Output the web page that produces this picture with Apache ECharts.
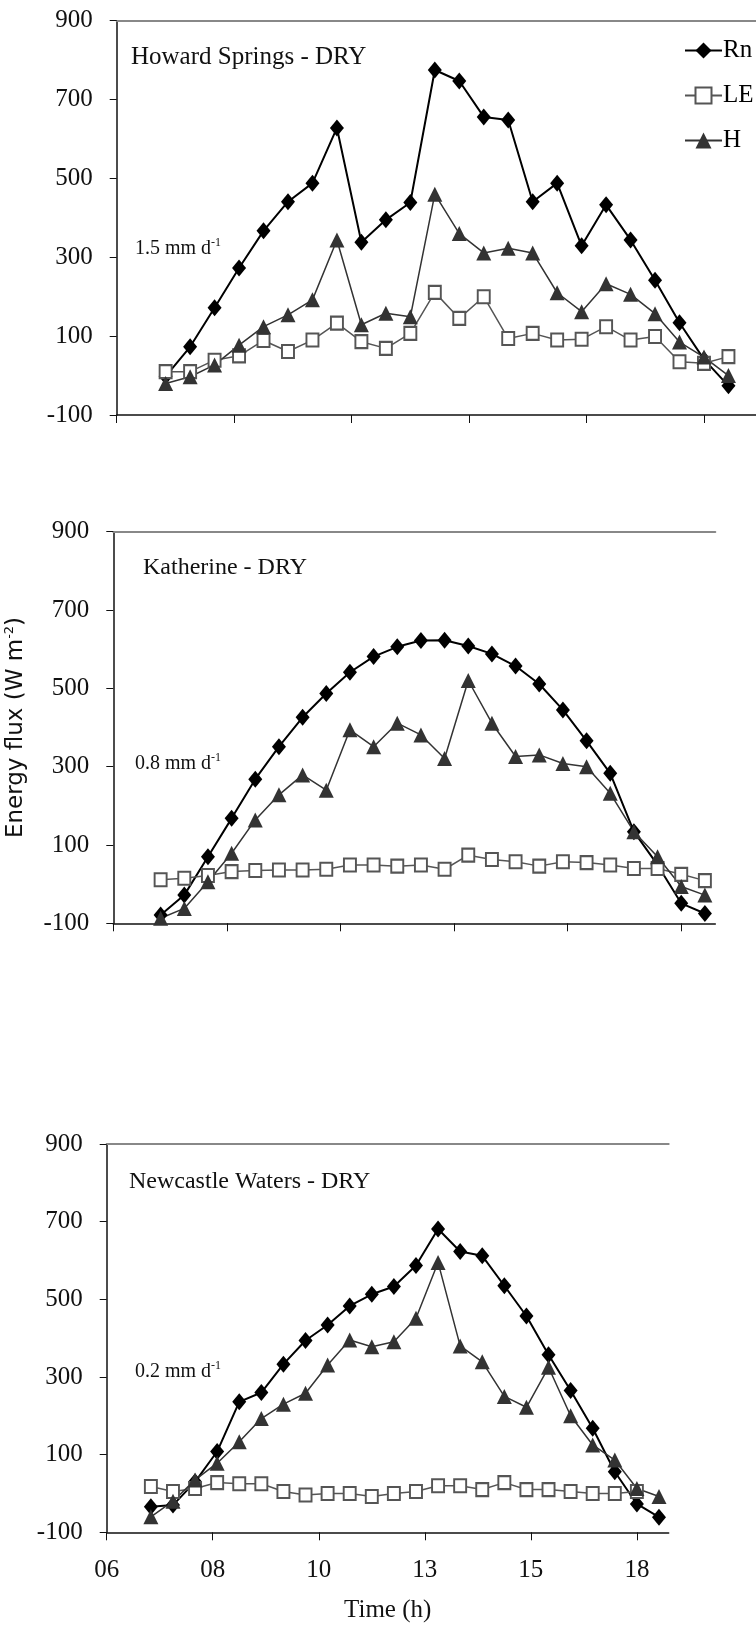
<!DOCTYPE html>
<html>
<head>
<meta charset="utf-8">
<script src="https://cdn.jsdelivr.net/npm/echarts@6/dist/echarts.min.js"></script>
<style>
  html, body { margin: 0; padding: 0; background: #fff; }
  #main { width: 756px; height: 1631px; }
</style>
</head>
<body>
<div id="main"></div>
<script>
// time of day (h), half-hourly
var times = [7.0, 7.5, 8.0, 8.5, 9.0, 9.5, 10.0, 10.5, 11.0, 11.5, 12.0, 12.5,
             13.0, 13.5, 14.0, 14.5, 15.0, 15.5, 16.0, 16.5, 17.0, 17.5, 18.0, 18.5];
var xTicks = [6.0, 8.4, 10.8, 13.2, 15.6, 18.0];
var yTicks = [-100, 100, 300, 500, 700, 900];

// Howard Springs - DRY
var howardRn = [-2, 73, 172, 273, 367, 441, 488, 628, 338, 395, 439, 775, 747, 656, 648, 441, 488, 329, 433, 344, 242, 134, 41, -26];
var howardLE = [10, 10, 39, 50, 89, 61, 90, 133, 86, 69, 107, 211, 145, 200, 94, 107, 90, 92, 124, 90, 99, 35, 31, 48];
var howardH = [-20, -3, 27, 77, 124, 154, 192, 344, 129, 158, 149, 460, 360, 311, 323, 311, 210, 162, 233, 206, 157, 85, 47, 0];

// Katherine - DRY
var katherineRn = [-79, -28, 70, 168, 268, 351, 426, 487, 541, 581, 606, 622, 623, 608, 588, 557, 511, 445, 366, 283, 134, 49, -49, -75];
var katherineLE = [11, 15, 22, 32, 35, 36, 36, 38, 49, 49, 46, 49, 38, 74, 63, 57, 46, 57, 55, 49, 40, 40, 25, 9];
var katherineH = [-87, -62, 6, 79, 164, 228, 279, 240, 394, 351, 411, 381, 321, 520, 411, 326, 330, 308, 300, 232, 134, 70, -6, -28];

// Newcastle Waters - DRY
var newcastleRn = [-34, -30, 30, 108, 236, 260, 333, 394, 434, 483, 513, 533, 587, 681, 623, 612, 535, 457, 357, 265, 168, 56, -27, -61];
var newcastleLE = [18, 5, 13, 28, 25, 25, 5, -4, 0, 0, -8, 0, 5, 20, 20, 10, 28, 10, 10, 5, 0, 0, 5, null];
var newcastleH = [-60, -20, 35, 78, 133, 193, 230, 258, 331, 395, 378, 391, 451, 595, 380, 339, 250, 222, 325, 200, 125, 86, 13, -8];

var panels = [
    { title: 'Howard Springs - DRY', et: '1.5 mm d', rn: howardRn, le: howardLE, h: howardH },
    { title: 'Katherine - DRY', et: '0.8 mm d', rn: katherineRn, le: katherineLE, h: katherineH },
    { title: 'Newcastle Waters - DRY', et: '0.2 mm d', rn: newcastleRn, le: newcastleLE, h: newcastleH }
];

var SERIF = 'Liberation Serif';
var T0 = 6; // x axis starts at 06 h

// plot boxes (px)
var grids = [
    { left: 116.7, top: 20.7, width: 646, height: 394.3, max: 13.2,
      titleLeft: 131, titleTop: 45, titleSize: 25, etTop: 237 },
    { left: 113.3, top: 531.7, width: 602, height: 391.6, max: 12.72,
      titleLeft: 143, titleTop: 556, titleSize: 24, etTop: 752 },
    { left: 106.7, top: 1144, width: 562, height: 388.3, max: 12.72,
      titleLeft: 129, titleTop: 1170, titleSize: 24, etTop: 1360 }
];

function pairs(vals) {
    return times.map(function (t, i) {
        return vals[i] == null ? null : [t - T0, vals[i]];
    });
}

function pad2(h) {
    var n = Math.floor(h + 1e-6);
    return (n < 10 ? '0' : '') + n;
}

var option = {
    animation: false,
    backgroundColor: '#fff',
    textStyle: { fontFamily: SERIF },
    grid: [],
    xAxis: [],
    yAxis: [],
    title: [],
    series: [],
    legend: {
        data: ['Rn', 'LE', 'H'],
        orient: 'vertical',
        left: 684,
        top: 38,
        padding: 0,
        itemWidth: 37,
        itemHeight: 20,
        itemGap: 20,
        textStyle: { fontFamily: SERIF, fontSize: 25, color: '#000', padding: [0, 0, 0, -4] }
    }
};

var xTickOffsets = xTicks.map(function (v) { return v - T0; });

grids.forEach(function (g, i) {
    var p = panels[i];
    var last = i === 2;
    option.grid.push({ left: g.left, top: g.top, width: g.width, height: g.height, outerBoundsMode: 'none' });

    // bottom time axis
    option.xAxis.push({
        type: 'value',
        gridIndex: i,
        min: 0,
        max: g.max,
        interval: 2.4,
        axisLine: { onZero: false, lineStyle: { color: '#111', width: 1.5 } },
        axisTick: { show: true, length: 8, customValues: xTickOffsets, lineStyle: { color: '#111', width: 1 } },
        axisLabel: {
            show: last,
            customValues: xTickOffsets,
            margin: 26,
            fontFamily: SERIF,
            fontSize: 25,
            color: '#111',
            formatter: function (v) { return pad2(v + T0); }
        },
        splitLine: { show: false },
        name: last ? 'Time (h)' : '',
        nameLocation: 'middle',
        nameGap: 66,
        nameTextStyle: { fontFamily: SERIF, fontSize: 25, color: '#111' }
    });
    // top border line
    option.xAxis.push({
        type: 'value',
        gridIndex: i,
        position: 'top',
        min: 0,
        max: g.max,
        axisLine: { onZero: false, lineStyle: { color: '#888', width: 2 } },
        axisTick: { show: false },
        axisLabel: { show: false },
        splitLine: { show: false }
    });

    option.yAxis.push({
        type: 'value',
        gridIndex: i,
        min: -100,
        max: 900,
        axisLine: { show: true, onZero: false, lineStyle: { color: '#111', width: 1.5 } },
        axisTick: { show: true, inside: false, length: 7, customValues: yTicks, lineStyle: { color: '#111', width: 1 } },
        axisLabel: { customValues: yTicks, margin: 24, fontFamily: SERIF, fontSize: 25, color: '#111' },
        splitLine: { show: false },
        name: i === 1 ? '{a|Energy flux (W m}{s|-2}{a|)}' : '',
        nameLocation: 'middle',
        nameRotate: 90,
        nameGap: 84,
        nameTextStyle: {
            rich: {
                a: { fontFamily: 'DejaVu Sans', fontSize: 23, color: '#111', lineHeight: 26 },
                s: { fontFamily: 'DejaVu Sans', fontSize: 13, color: '#111', verticalAlign: 'top', lineHeight: 26 }
            }
        }
    });

    option.title.push({
        text: p.title,
        left: g.titleLeft,
        top: g.titleTop,
        padding: 0,
        textStyle: { fontFamily: SERIF, fontWeight: 'normal', fontSize: g.titleSize, color: '#111' }
    });
    option.title.push({
        text: '{n|' + p.et + '}{s|-1}',
        left: 135,
        top: g.etTop,
        padding: 0,
        textStyle: {
            fontWeight: 'normal',
            rich: {
                n: { fontFamily: SERIF, fontWeight: 'normal', fontSize: 20, color: '#111', lineHeight: 24 },
                s: { fontFamily: SERIF, fontWeight: 'normal', fontSize: 12, color: '#111', verticalAlign: 'top', lineHeight: 24 }
            }
        }
    });

    var xi = i * 2;
    option.series.push({
        name: 'Rn',
        type: 'line',
        xAxisIndex: xi,
        yAxisIndex: i,
        data: pairs(p.rn),
        symbol: 'diamond',
        symbolSize: [14, 17],
        showAllSymbol: true,
        itemStyle: { color: '#000' },
        lineStyle: { color: '#000', width: 2 }
    });
    option.series.push({
        name: 'LE',
        type: 'line',
        xAxisIndex: xi,
        yAxisIndex: i,
        data: pairs(p.le),
        symbol: 'rect',
        symbolSize: [12, 13],
        showAllSymbol: true,
        itemStyle: { color: '#fff', borderColor: '#555', borderWidth: 2 },
        lineStyle: { color: '#555', width: 1.5 }
    });
    option.series.push({
        name: 'H',
        type: 'line',
        xAxisIndex: xi,
        yAxisIndex: i,
        data: pairs(p.h),
        symbol: 'triangle',
        symbolSize: [15, 15],
        showAllSymbol: true,
        itemStyle: { color: '#333' },
        lineStyle: { color: '#333', width: 1.5 }
    });
});

var myChart = echarts.init(document.getElementById('main'), null, { renderer: 'canvas' });
myChart.setOption(option);
</script>
</body>
</html>
